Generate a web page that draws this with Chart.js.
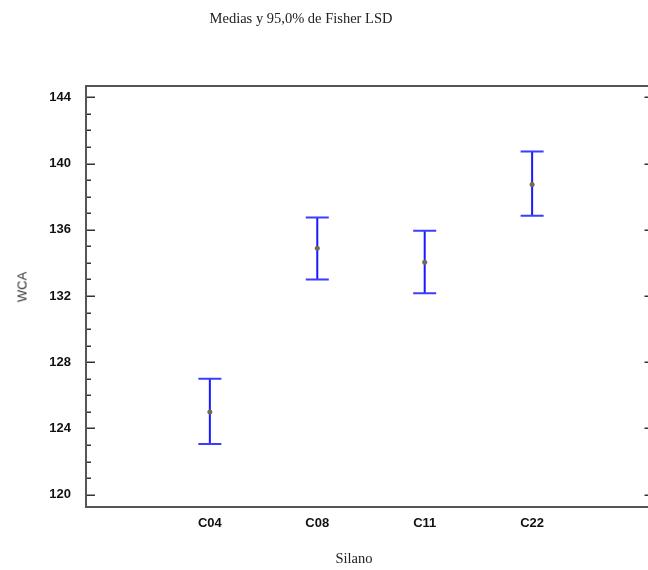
<!DOCTYPE html>
<html>
<head>
<meta charset="utf-8">
<script src="https://cdn.jsdelivr.net/npm/chart.js@4/dist/chart.umd.min.js"></script>
<style>
  html, body { margin: 0; padding: 0; background: #fff; overflow: hidden; }
  #wrap { position: relative; width: 648px; height: 570px; overflow: hidden; background: #fff; }
  #c { position: absolute; left: 0; top: 0; }
  .t { position: absolute; font-family: "Liberation Serif", "DejaVu Serif", serif; font-size: 14.5px; color: #222; white-space: nowrap; line-height: 1; }
</style>
</head>
<body>
<div id="wrap">
  <canvas id="c" width="667" height="570"></canvas>
  <div class="t" id="title" style="left:0; width:602px; text-align:center; top:11px;">Medias y 95,0% de Fisher LSD</div>
  <div class="t" id="xtitle" style="left:0; width:708px; text-align:center; top:551px;">Silano</div>
  <div class="t" id="ytitle" style="left:22px; top:287px; font-family:'Liberation Sans', Arial, sans-serif; font-size:13px; color:#333; transform: translate(-50%,-50%) rotate(-90deg);">WCA</div>
</div>
<script>
// ---- data ----
const categories = ["C04", "C08", "C11", "C22"];
const means  = [125.0, 134.88, 134.04, 138.73];
const lower  = [123.06, 133.00, 132.17, 136.85];
const upper  = [127.00, 136.74, 135.94, 140.72];
const yTickValues = [120, 124, 128, 132, 136, 140, 144];
const yMinorStep = 1;

const BLUE = "rgb(25,25,255)";

const datasets = [];
categories.forEach((c, i) => {
  datasets.push({
    type: "line",
    label: c,
    data: [{ x: i + 1, y: lower[i] }, { x: i + 1, y: upper[i] }],
    borderColor: BLUE,
    borderWidth: 2,
    showLine: true,
    pointStyle: "line",
    pointRadius: 11.5,
    pointHoverRadius: 11.5,
    pointBorderWidth: 2,
    pointBorderColor: "rgb(60,60,255)",
    pointBackgroundColor: BLUE,
    order: 2
  });
});
datasets.push({
  type: "scatter",
  label: "Media",
  data: means.map((m, i) => ({ x: i + 1, y: m })),
  pointRadius: 2.5,
  pointBackgroundColor: "#6e6e55",
  pointBorderColor: "#6e6e55",
  pointBorderWidth: 0,
  order: 1
});

const framePlugin = {
  id: "frame",
  beforeDatasetsDraw(chart) {
    const { ctx, chartArea: a, scales } = chart;
    const y = scales.y;
    ctx.save();
    ctx.strokeStyle = "#333";
    ctx.lineWidth = 1.5;
    const lo = yTickValues[0], hi = yTickValues[yTickValues.length - 1];
    for (let v = lo; v <= hi + 1e-9; v += yMinorStep) {
      const py = Math.round(y.getPixelForValue(v)) + 0.25;
      const major = yTickValues.includes(v);
      const len = major ? 9 : 5;
      ctx.beginPath();
      ctx.moveTo(a.left, py);
      ctx.lineTo(a.left + len, py);
      ctx.stroke();
      if (major) {
        ctx.beginPath();
        ctx.moveTo(a.right, py);
        ctx.lineTo(a.right - len, py);
        ctx.stroke();
      }
    }
    ctx.strokeStyle = "#555";
    ctx.lineWidth = 2;
    ctx.strokeRect(a.left, a.top, a.right - a.left, a.bottom - a.top);
    ctx.restore();
  }
};

new Chart(document.getElementById("c"), {
  type: "scatter",
  data: { datasets },
  options: {
    responsive: false,
    animation: false,
    devicePixelRatio: 1,
    layout: { padding: { top: 86, right: 8, left: 0, bottom: 0 } },
    plugins: { legend: { display: false }, title: { display: false }, tooltip: { enabled: false } },
    scales: {
      x: {
        type: "linear",
        min: -0.153,
        max: 5.13,
        afterBuildTicks(scale) { scale.ticks = categories.map((c, i) => ({ value: i + 1 })); },
        afterFit(scale) { scale.height = 63; },
        ticks: {
          autoSkip: false,
          maxRotation: 0,
          padding: 9,
          color: "#111",
          font: { family: "Liberation Sans, Arial, sans-serif", size: 13, weight: "bold" },
          callback: (v) => categories[Math.round(v) - 1] ?? ""
        },
        grid: { display: false, drawTicks: false },
        border: { display: false }
      },
      y: {
        type: "linear",
        min: 119.26,
        max: 144.68,
        afterBuildTicks(scale) { scale.ticks = yTickValues.map(v => ({ value: v })); },
        afterFit(scale) { scale.width = 86; },
        ticks: {
          autoSkip: false,
          padding: 15,
          color: "#111",
          font: { family: "Liberation Sans, Arial, sans-serif", size: 13, weight: "bold" },
          callback: (v) => String(v)
        },
        grid: { display: false, drawTicks: false },
        border: { display: false }
      }
    }
  },
  plugins: [framePlugin]
});
</script>
</body>
</html>
